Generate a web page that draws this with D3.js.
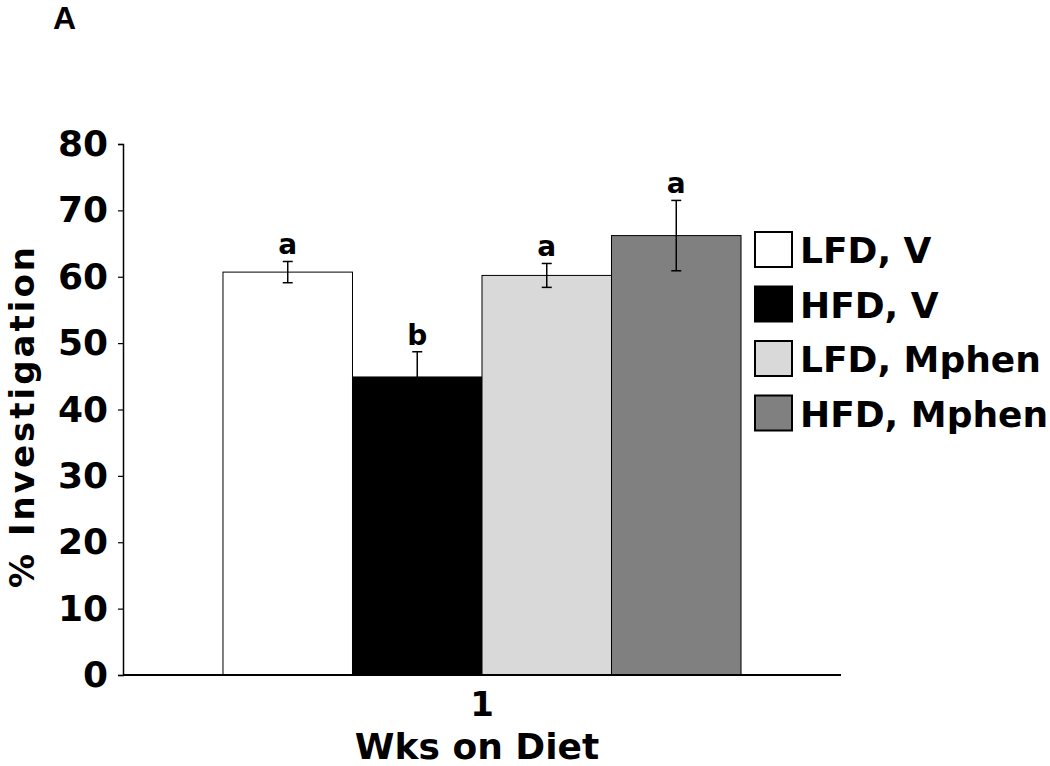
<!DOCTYPE html>
<html><head><meta charset="utf-8">
<script src="https://cdn.jsdelivr.net/npm/d3@7"></script>
<style>body{margin:0;background:#fff}svg{display:block}</style>
</head><body>
<svg id="chart" width="1050" height="766"></svg>
<script>
const categories = ["1"];
const series = ["LFD, V", "HFD, V", "LFD, Mphen", "HFD, Mphen"];
const values = [60.7, 44.9, 60.2, 66.2];
const errors = [1.6, 3.8, 1.8, 5.3];
const letters = ["a", "b", "a", "a"];
const colors = ["#ffffff", "#000000", "#d9d9d9", "#808080"];
const yTicks = [0, 10, 20, 30, 40, 50, 60, 70, 80];

const svg = d3.select("#chart");
const font = "'DejaVu Sans', Verdana, sans-serif";
const L = 123, R = 841, T = 144, B = 675;

const y = d3.scaleLinear().domain([0, 80]).range([B, T]);
const x0 = d3.scaleBand().domain(categories).range([L, R]).paddingInner(0).paddingOuter(0.193);
const x1 = d3.scaleBand().domain(series).range([0, x0.bandwidth()]).padding(0);

// panel label
svg.append("text").attr("x", 53).attr("y", 29).text("A")
  .attr("font-family", "'Liberation Sans', Arial, sans-serif").attr("font-weight", "bold").attr("font-size", 32);

// bars
const g = svg.append("g");
const cat = categories[0];
series.forEach((s, i) => {
  const bx = x0(cat) + x1(s);
  g.append("rect").attr("x", bx).attr("y", y(values[i]))
    .attr("width", x1.bandwidth()).attr("height", y(0) - y(values[i]))
    .attr("fill", colors[i]).attr("stroke", "#000").attr("stroke-width", 1);
});
// error bars
series.forEach((s, i) => {
  const cx = x0(cat) + x1(s) + x1.bandwidth() / 2;
  const top = y(values[i] + errors[i]), bot = y(values[i] - errors[i]);
  const eg = g.append("g").attr("stroke", "#000").attr("stroke-width", 1.5);
  eg.append("line").attr("x1", cx).attr("x2", cx).attr("y1", top).attr("y2", bot);
  eg.append("line").attr("x1", cx - 5).attr("x2", cx + 5).attr("y1", top).attr("y2", top);
  eg.append("line").attr("x1", cx - 5).attr("x2", cx + 5).attr("y1", bot).attr("y2", bot);
  svg.append("text").attr("x", cx).attr("y", top - 7).attr("text-anchor", "middle")
    .attr("font-family", font).attr("font-weight", "bold").attr("font-size", 28).text(letters[i]);
});

// y axis
const yAxis = svg.append("g").attr("transform", `translate(${L},0)`)
  .call(d3.axisLeft(y).tickValues(yTicks).tickSize(5).tickPadding(10));
yAxis.select(".domain").attr("stroke-width", 1.5);
yAxis.selectAll("line").attr("stroke-width", 1.2);
yAxis.selectAll("text").attr("font-family", font).attr("font-weight", "bold").attr("font-size", 36).attr("fill", "#000");

// x axis
const xAxis = svg.append("g").attr("transform", `translate(0,${B})`)
  .call(d3.axisBottom(x0).tickSize(0).tickPadding(17));
xAxis.select(".domain").attr("stroke-width", 2).attr("d", `M${L},0H${R}`);
xAxis.selectAll("text").attr("font-family", font).attr("font-weight", "bold").attr("font-size", 34).attr("fill", "#000");

// axis titles
svg.append("text").attr("transform", `translate(34,416) rotate(-90)`)
  .attr("text-anchor", "middle").attr("font-family", font).attr("font-weight", "bold")
  .attr("font-size", 34).attr("letter-spacing", 3).text("% Investigation");
svg.append("text").attr("x", 477).attr("y", 759).attr("text-anchor", "middle")
  .attr("font-family", font).attr("font-weight", "bold").attr("font-size", 36).text("Wks on Diet");

// legend
const lg = svg.append("g").attr("transform", "translate(755,232)");
series.forEach((s, i) => {
  const row = lg.append("g").attr("transform", `translate(0,${i * 54.5})`);
  row.append("rect").attr("x", 0).attr("y", 0).attr("width", 37).attr("height", 35)
    .attr("fill", colors[i]).attr("stroke", "#000").attr("stroke-width", 2);
  row.append("text").attr("x", 45).attr("y", 31).attr("font-family", font).attr("font-weight", "bold")
    .attr("font-size", 36).text(s);
});
</script>
</body></html>
